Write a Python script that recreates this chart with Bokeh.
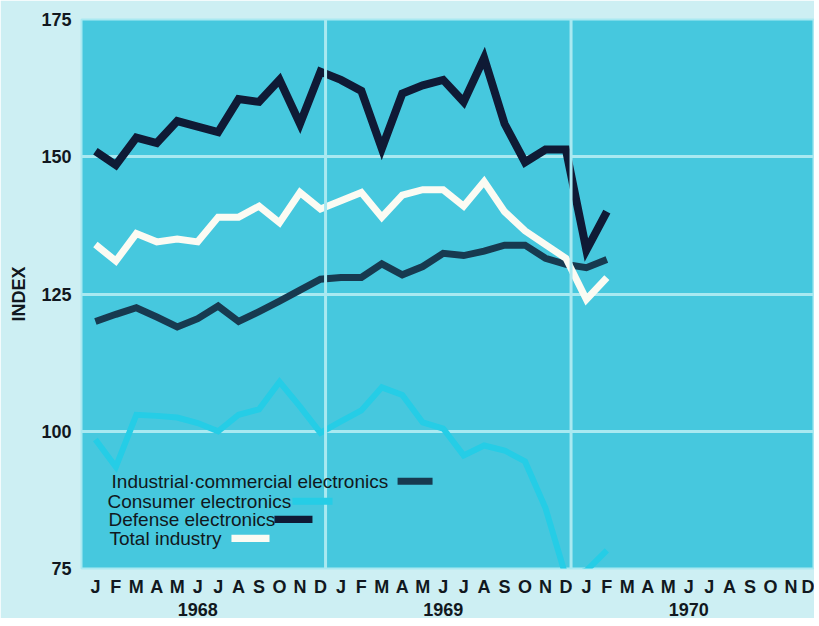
from bokeh.plotting import figure
from bokeh.models import FixedTicker, LinearAxis, Label, BoxAnnotation, Range1d, Span
from bokeh.embed import file_html
from bokeh.resources import INLINE

# ---- data (index values, monthly Jan 1968 .. Feb 1970) ----
month_letters = ["J", "F", "M", "A", "M", "J", "J", "A", "S", "O", "N", "D"] * 3
years = ["1968", "1969", "1970"]
months = list(range(26))

defense = [151, 148.5, 153.5, 152.5, 156.5, 155.5, 154.5, 160.5, 160, 164, 156, 165.5,
           164, 162, 151.5, 161.5, 163, 164, 160, 168, 156, 149, 151.3, 151.3,
           133, 140]
total = [134, 131, 136, 134.5, 135, 134.5, 139, 139, 141, 138, 143.5, 140.5,
         142, 143.5, 139, 143, 144, 144, 141, 145.5, 140, 136.5, 134, 131.5,
         124, 128]
industrial = [120, 121.3, 122.5, 120.8, 119, 120.5, 122.8, 120, 121.8, 123.7, 125.7, 127.7,
              128, 128, 130.5, 128.5, 130, 132.4, 132, 132.8, 133.9, 133.9, 131.5, 130.4,
              129.8, 131.3]
consumer = [98.5, 93.5, 103, 102.8, 102.5, 101.5, 100, 103, 104, 109, 104.5, 99.7,
            101.8, 103.8, 108, 106.6, 101.6, 100.5, 95.6, 97.4, 96.5, 94.5, 86, 73.5,
            74.6, 78.3]
y_ticks = [75, 100, 125, 150, 175]

legend_names = ["Industrial\u00b7commercial electronics", "Consumer electronics",
                "Defense electronics", "Total industry"]

# ---- colours ----
PAGE_BG = "#cdeff3"
PLOT_BG = "#46c8de"
GRID = "#a9e9f1"
C_DEF = "#0f1a35"
C_IND = "#173a50"
C_TOT = "#fbfbf3"
C_CON = "#25cde6"
TEXT = "#111820"
FONT = "Liberation Sans"

p = figure(width=814, height=618, output_backend="svg", toolbar_location=None,
           x_range=Range1d(-0.68, 35.15), y_range=Range1d(75, 175),
           min_border_left=81, min_border_top=19, min_border_right=0, min_border_bottom=0)
p.background_fill_color = PLOT_BG
p.border_fill_color = PAGE_BG
p.outline_line_color = GRID
p.outline_line_width = 2

# grid
p.xgrid.visible = False
p.ygrid.ticker = FixedTicker(ticks=y_ticks)
p.ygrid.grid_line_color = GRID
p.ygrid.grid_line_width = 3
for yr_end in [11.25, 23.25]:
    p.add_layout(Span(location=yr_end, dimension="height", line_color=GRID, line_width=3))

# x axis (months)
xa = p.xaxis[0]
xa.ticker = FixedTicker(ticks=list(range(36)))
xa.major_label_overrides = {i: month_letters[i] for i in range(36)}
xa.axis_line_color = None
xa.major_tick_line_color = None
xa.minor_tick_line_color = None
xa.major_label_standoff = 2
xa.major_label_text_font = FONT
xa.major_label_text_font_size = "18px"
xa.major_label_text_font_style = "bold"
xa.major_label_text_color = TEXT

# year axis
ya2 = LinearAxis(ticker=FixedTicker(ticks=[5, 17, 29]),
                 major_label_overrides={5: years[0], 17: years[1], 29: years[2]})
ya2.axis_line_color = None
ya2.major_tick_line_color = None
ya2.minor_tick_line_color = None
ya2.major_label_standoff = -3
ya2.major_label_text_font = FONT
ya2.major_label_text_font_size = "18px"
ya2.major_label_text_font_style = "bold"
ya2.major_label_text_color = TEXT
p.add_layout(ya2, "below")

# y axis
yax = p.yaxis[0]
yax.ticker = FixedTicker(ticks=y_ticks)
yax.axis_line_color = None
yax.major_tick_line_color = None
yax.minor_tick_line_color = None
yax.major_label_standoff = 4
yax.major_label_text_font = FONT
yax.major_label_text_font_size = "18px"
yax.major_label_text_font_style = "bold"
yax.major_label_text_color = TEXT
yax.axis_label = "INDEX"
yax.axis_label_text_font = FONT
yax.axis_label_text_font_size = "18px"
yax.axis_label_text_font_style = "bold"
yax.axis_label_text_color = TEXT
yax.axis_label_standoff = 9

# series
p.line(months, consumer, line_color=C_CON, line_width=6, line_join="miter")
p.line(months, industrial, line_color=C_IND, line_width=7, line_join="miter")
p.line(months, total, line_color=C_TOT, line_width=7, line_join="miter")
p.line(months, defense, line_color=C_DEF, line_width=8, line_join="miter")

# legend (text with swatch to the right)
legend_rows = [
    (legend_names[0], 0.79, 90.9, 14.77, 16.48, C_IND),
    (legend_names[1], 0.59, 87.25, 9.63, 11.59, C_CON),
    (legend_names[2], 0.64, 83.96, 8.75, 10.61, C_DEF),
    (legend_names[3], 0.69, 80.48, 6.65, 8.51, C_TOT),
]
for name, tx, ty, s0, s1, col in legend_rows:
    p.add_layout(Label(x=tx, y=ty, text=name, text_font=FONT, text_font_size="19px",
                       text_color=TEXT, text_baseline="middle", text_align="left"))
    p.add_layout(BoxAnnotation(left=s0, right=s1, bottom=ty - 0.65, top=ty + 0.65,
                               fill_color=col, fill_alpha=1, line_color=None))

open("out.html", "w").write(file_html(p, INLINE))
